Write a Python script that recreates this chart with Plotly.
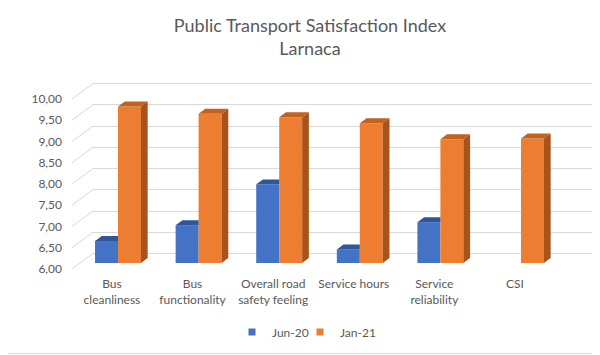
import plotly.graph_objects as go

# ---- data ----
categories = ["Bus<br>cleanliness", "Bus<br>functionality", "Overall road<br>safety feeling",
              "Service hours", "Service<br>reliability", "CSI"]
jun20 = [6.52, 6.89, 7.85, 6.32, 6.96, None]
jan21 = [9.68, 9.51, 9.43, 9.29, 8.91, 8.93]
y_ticks = [6.0, 6.5, 7.0, 7.5, 8.0, 8.5, 9.0, 9.5, 10.0]
y_ticktext = ["6,00", "6,50", "7,00", "7,50", "8,00", "8,50", "9,00", "9,50", "10,00"]
series_names = ["Jun-20", "Jan-21"]

# ---- style / geometry (page pixels, compensated for the 8px page margin) ----
OFF = 8
W_PX, H_PX = 600, 355
PL, PR = 93 - OFF, 592 - OFF          # plot area x
PT, PB = 75 - OFF, 269 - OFF          # plot area y
PX_PER_CAT = 80.6
PX_PER_UNIT = 42.5
pw, ph = PR - PL, PB - PT
span_y = ph / PX_PER_UNIT
x0 = -((118 - OFF) - PL) / PX_PER_CAT
x_range = [x0, x0 + pw / PX_PER_CAT]

BASE = 6.0
WALL_OFF = 15.5 / PX_PER_UNIT
BAR_OFF = 6 / PX_PER_UNIT
label_rng = [BASE, BASE + span_y]                             # front edge (labels)
wall_rng = [BASE - WALL_OFF, BASE - WALL_OFF + span_y]        # back wall grid
bar_rng = [BASE - BAR_OFF, BASE - BAR_OFF + span_y]           # bars

BW = 0.285
DX = 6.7 / PX_PER_CAT
DY = 5.0 / PX_PER_UNIT
BLUE, BLUE_TOP = "#4472C4", "#2F569A"
ORANGE, ORANGE_TOP, ORANGE_SIDE = "#ED7D31", "#C3611F", "#A7531A"
TXT = "#595959"
GRID = "#D9D9D9"
FONT = "Lato"

fig = go.Figure()

xs = list(range(len(categories)))
# front faces
fig.add_trace(go.Bar(x=xs, y=[None if v is None else v - BASE for v in jun20], base=BASE,
                     width=BW, offset=-BW, marker=dict(color=BLUE, line=dict(width=0)),
                     name=series_names[0], yaxis="y3", showlegend=False))
fig.add_trace(go.Bar(x=xs, y=[v - BASE for v in jan21], base=BASE,
                     width=BW, offset=0, marker=dict(color=ORANGE, line=dict(width=0)),
                     name=series_names[1], yaxis="y3", showlegend=False))

def poly_trace(xx, yy, color):
    return go.Scatter(x=xx, y=yy, mode="lines", fill="toself", fillcolor=color,
                      line=dict(width=0, color=color), hoverinfo="skip",
                      showlegend=False, yaxis="y3")

# blue top faces (clipped by orange front)
bx, by = [], []
for i, v in enumerate(jun20):
    if v is None:
        continue
    xl, xr = i - BW, i
    bx += [xl, xl + DX, xr, xr, xl, None]
    by += [v, v + DY, v + DY, v, v, None]
fig.add_trace(poly_trace(bx, by, BLUE_TOP))

# orange top and side faces
tx, ty, sx, sy = [], [], [], []
for i, v in enumerate(jan21):
    xl, xr = i, i + BW
    tx += [xl, xl + DX, xr + DX, xr, xl, None]
    ty += [v, v + DY, v + DY, v, v, None]
    sx += [xr, xr + DX, xr + DX, xr, xr, None]
    sy += [BASE, BASE + DY, v + DY, v, BASE, None]
fig.add_trace(poly_trace(tx, ty, ORANGE_TOP))
fig.add_trace(poly_trace(sx, sy, ORANGE_SIDE))

# legend entries (small square keys), one legend each so they sit close together
for name, col, lg in zip(series_names, [BLUE, ORANGE], ["legend", "legend2"]):
    fig.add_trace(go.Scatter(x=[None], y=[None], mode="markers", name=name, yaxis="y3",
                             legend=lg, marker=dict(symbol="square", size=7, color=col)))

# dummy trace to activate y2 grid
fig.add_trace(go.Scatter(x=[None], y=[None], yaxis="y2", showlegend=False, hoverinfo="skip"))

# diagonal connectors from labels to back wall
shapes = []
for t in y_ticks:
    shapes.append(dict(type="line", xref="paper", yref="y",
                       x0=(72 - OFF - PL) / pw, x1=0, y0=t, y1=t + WALL_OFF,
                       line=dict(color=GRID, width=1)))
# chart border (bottom edge visible in view)
shapes.append(dict(type="line", xref="paper", yref="paper",
                   x0=-PL / pw, x1=(W_PX - PL) / pw,
                   y0=(PB - (353.5 - OFF)) / ph, y1=(PB - (353.5 - OFF)) / ph,
                   line=dict(color=GRID, width=1)))

legend_common = dict(orientation="h", yanchor="middle", xanchor="left",
                     y=(PB - (332 - OFF)) / ph,
                     font=dict(size=12, color=TXT), itemwidth=30, itemsizing="trace",
                     bgcolor="rgba(0,0,0,0)", borderwidth=0)

fig.update_layout(
    template="none",
    width=W_PX, height=H_PX,
    margin=dict(l=PL, r=W_PX - PR, t=PT, b=H_PX - PB, pad=0, autoexpand=False),
    paper_bgcolor="white", plot_bgcolor="white",
    font=dict(family=FONT, color=TXT, size=12),
    title=dict(text="Public Transport Satisfaction Index<br>Larnaca",
               font=dict(size=18, color=TXT, family=FONT),
               x=(310 - OFF) / W_PX, xanchor="center", xref="container",
               y=1 - 23.5 / H_PX, yanchor="middle", yref="container"),
    barmode="overlay",
    showlegend=True,
    legend=dict(x=(232 - OFF - PL) / pw, **legend_common),
    legend2=dict(x=(300 - OFF - PL) / pw, **legend_common),
    xaxis=dict(range=x_range, tickvals=[i - 0.075 for i in xs], ticktext=categories,
               showgrid=False, zeroline=False, showline=False, ticks="", automargin=False,
               tickfont=dict(size=12, color=TXT), ticklabelstandoff=6),
    yaxis=dict(range=label_rng, tickvals=y_ticks, ticktext=y_ticktext, automargin=False,
               showgrid=False, zeroline=False, showline=False, ticks="",
               tickfont=dict(size=12, color=TXT), ticklabelstandoff=30),
    yaxis2=dict(range=wall_rng, overlaying="y", tickvals=y_ticks, showticklabels=False,
                showgrid=True, gridcolor=GRID, gridwidth=1, zeroline=False, automargin=False,
                showline=False, ticks=""),
    yaxis3=dict(range=bar_rng, overlaying="y", visible=False, showgrid=False, automargin=False),
    shapes=shapes,
)

fig.write_html("out.html")
